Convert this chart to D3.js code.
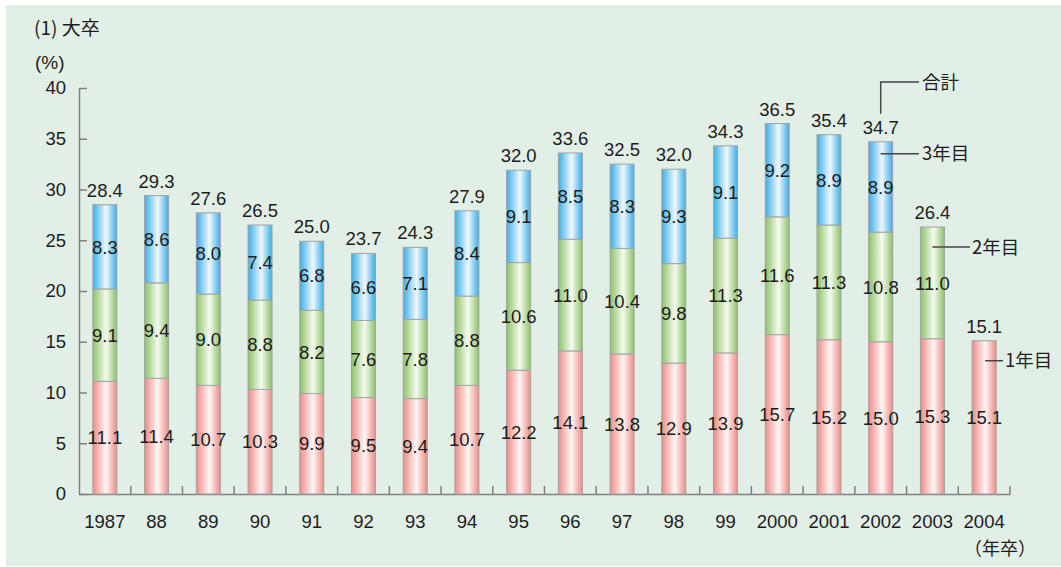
<!DOCTYPE html>
<html>
<head>
<meta charset="utf-8">
<script src="https://cdn.jsdelivr.net/npm/d3@7"></script>
<style>
body { margin: 0; background: #fff; }
text { font-family: "Liberation Sans", Arial, "Noto Sans CJK JP", sans-serif; fill: #1c1c1c; }
.jp { font-family: "Noto Sans CJK JP", sans-serif; }
</style>
</head>
<body>
<div id="chart"></div>
<script>
const years = ["1987", "88", "89", "90", "91", "92", "93", "94", "95", "96", "97", "98", "99", "2000", "2001", "2002", "2003", "2004"];
const year1 = [11.1, 11.4, 10.7, 10.3, 9.9, 9.5, 9.4, 10.7, 12.2, 14.1, 13.8, 12.9, 13.9, 15.7, 15.2, 15.0, 15.3, 15.1];
const year2 = [9.1, 9.4, 9.0, 8.8, 8.2, 7.6, 7.8, 8.8, 10.6, 11.0, 10.4, 9.8, 11.3, 11.6, 11.3, 10.8, 11.0, null];
const year3 = [8.3, 8.6, 8.0, 7.4, 6.8, 6.6, 7.1, 8.4, 9.1, 8.5, 8.3, 9.3, 9.1, 9.2, 8.9, 8.9, null, null];
const totals = [28.4, 29.3, 27.6, 26.5, 25.0, 23.7, 24.3, 27.9, 32.0, 33.6, 32.5, 32.0, 34.3, 36.5, 35.4, 34.7, 26.4, 15.1];
const yTicks = [0, 5, 10, 15, 20, 25, 30, 35, 40];

const width = 1061, height = 567;
const margin = { top: 88, bottom: 73, left: 79, right: 51 };
const barW = 24;
const fs = 18.5;

const svg = d3.select("#chart").append("svg")
  .attr("width", width)
  .attr("height", height);

svg.append("rect")
  .attr("x", 6).attr("y", 5)
  .attr("width", width - 6).attr("height", height - 6)
  .attr("fill", "#e2efe6");

// gradients
const defs = svg.append("defs");
const grads = [
  { id: "g1", edge: "#ec8c88", mid: "#fff6f4" },
  { id: "g2", edge: "#8cc26a", mid: "#f6fbef" },
  { id: "g3", edge: "#3caee6", mid: "#eef8fd" }
];
grads.forEach(g => {
  const lg = defs.append("linearGradient").attr("id", g.id)
    .attr("x1", "0%").attr("x2", "100%").attr("y1", "0%").attr("y2", "0%");
  lg.append("stop").attr("offset", "0%").attr("stop-color", g.edge);
  lg.append("stop").attr("offset", "55%").attr("stop-color", g.mid);
  lg.append("stop").attr("offset", "100%").attr("stop-color", g.edge);
});

const x = d3.scaleBand()
  .domain(years)
  .range([margin.left, width - margin.right])
  .paddingInner(0);

const y = d3.scaleLinear()
  .domain([0, 40])
  .range([height - margin.bottom, margin.top]);

const axisColor = "#808080";

// y axis
const yAxis = svg.append("g")
  .attr("transform", `translate(${margin.left},0)`)
  .call(d3.axisLeft(y).tickValues(yTicks).tickSize(-8).tickSizeOuter(0).tickPadding(13));
yAxis.select(".domain").attr("stroke", axisColor).attr("stroke-width", 1.5);
yAxis.selectAll(".tick line").attr("stroke", axisColor).attr("stroke-width", 1.5);
yAxis.selectAll(".tick text").attr("font-size", fs).attr("fill", "#1c1c1c")
  .attr("font-family", "Liberation Sans, Arial, sans-serif");

// x axis
const xAxis = svg.append("g")
  .attr("transform", `translate(0,${y(0)})`)
  .call(d3.axisBottom(x).tickSize(0).tickSizeOuter(0).tickPadding(21));
xAxis.select(".domain").attr("stroke", axisColor).attr("stroke-width", 1.5);
xAxis.selectAll(".tick text").attr("font-size", fs).attr("fill", "#1c1c1c")
  .attr("font-family", "Liberation Sans, Arial, sans-serif");

svg.append("g").selectAll("line")
  .data(years)
  .join("line")
  .attr("x1", d => x(d) + x.bandwidth())
  .attr("x2", d => x(d) + x.bandwidth())
  .attr("y1", y(0))
  .attr("y2", y(0) - 8)
  .attr("stroke", axisColor)
  .attr("stroke-width", 1.5);

// stacked data
const rows = years.map((yr, i) => {
  const segs = [];
  let base = 0;
  [year1[i], year2[i], year3[i]].forEach((v, k) => {
    if (v != null) {
      segs.push({ yr, k, v, y0: base, y1: base + v });
      base += v;
    }
  });
  return { yr, segs, total: totals[i], top: base };
});

const segData = rows.flatMap(r => r.segs);

svg.append("g").selectAll("rect")
  .data(segData)
  .join("rect")
  .attr("x", d => x(d.yr) + x.bandwidth() / 2 - barW / 2)
  .attr("y", d => y(d.y1))
  .attr("width", barW)
  .attr("height", d => y(d.y0) - y(d.y1))
  .attr("fill", d => `url(#g${d.k + 1})`)
  .attr("stroke", "#a3a3a3")
  .attr("stroke-width", 1);

svg.append("g").selectAll("text")
  .data(segData)
  .join("text")
  .attr("x", d => x(d.yr) + x.bandwidth() / 2)
  .attr("y", d => y((d.y0 + d.y1) / 2))
  .attr("dy", "0.36em")
  .attr("text-anchor", "middle")
  .attr("font-size", fs)
  .text(d => d.v.toFixed(1));

svg.append("g").selectAll("text")
  .data(rows)
  .join("text")
  .attr("x", d => x(d.yr) + x.bandwidth() / 2)
  .attr("y", d => y(d.top) - 8)
  .attr("text-anchor", "middle")
  .attr("font-size", fs)
  .text(d => d.total.toFixed(1));

// titles
svg.append("text").attr("class", "jp")
  .attr("x", 34).attr("y", 35)
  .attr("font-size", 19)
  .text("(1) 大卒");
svg.append("text")
  .attr("x", 35).attr("y", 69)
  .attr("font-size", 19)
  .text("(%)");
svg.append("text").attr("class", "jp")
  .attr("x", 1000)
  .attr("y", 555)
  .attr("text-anchor", "middle")
  .attr("font-size", 18)
  .text("（年卒）");

// annotations
const lineColor = "#444";
const annFs = 18.5;
const i2002 = years.indexOf("2002");
const cx2002 = x("2002") + x.bandwidth() / 2;
svg.append("path")
  .attr("d", `M${cx2002},${y(rows[i2002].top) - 28}V82H919`)
  .attr("fill", "none").attr("stroke", lineColor).attr("stroke-width", 1.5);
svg.append("text").attr("class", "jp").attr("x", 922).attr("y", 82).attr("dy", "0.36em")
  .attr("font-size", annFs).text("合計");

const seg3 = rows[i2002].segs[2];
const y3 = y(seg3.y1) + 12;
svg.append("line")
  .attr("x1", cx2002).attr("x2", 919).attr("y1", y3).attr("y2", y3)
  .attr("stroke", lineColor).attr("stroke-width", 1.5);
svg.append("text").attr("class", "jp").attr("x", 922).attr("y", y3).attr("dy", "0.36em")
  .attr("font-size", annFs).text("3年目");

const i2003 = years.indexOf("2003");
const cx2003 = x("2003") + x.bandwidth() / 2;
const y2 = y(rows[i2003].top) + 20;
svg.append("line")
  .attr("x1", cx2003).attr("x2", 970).attr("y1", y2).attr("y2", y2)
  .attr("stroke", lineColor).attr("stroke-width", 1.5);
svg.append("text").attr("class", "jp").attr("x", 972).attr("y", y2).attr("dy", "0.36em")
  .attr("font-size", annFs).text("2年目");

const i2004 = years.indexOf("2004");
const cx2004 = x("2004") + x.bandwidth() / 2;
const y1 = y(rows[i2004].top) + 20;
svg.append("line")
  .attr("x1", cx2004 + 1).attr("x2", 1003).attr("y1", y1).attr("y2", y1)
  .attr("stroke", lineColor).attr("stroke-width", 1.5);
svg.append("text").attr("class", "jp").attr("x", 1005).attr("y", y1).attr("dy", "0.36em")
  .attr("font-size", annFs).text("1年目");
</script>
</body>
</html>
